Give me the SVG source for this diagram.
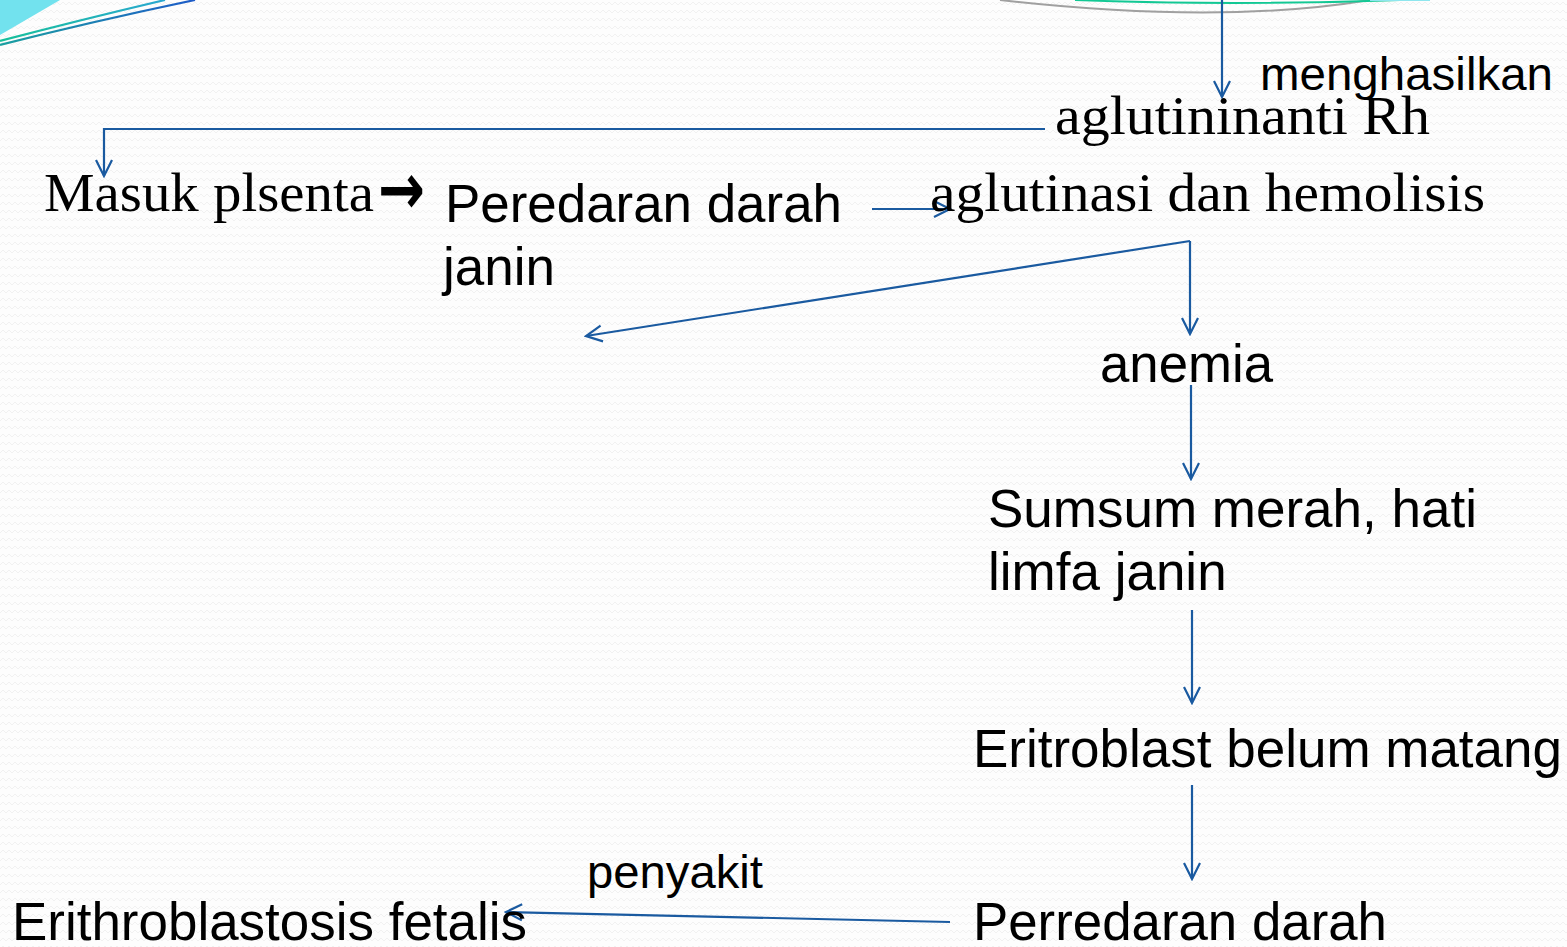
<svg xmlns="http://www.w3.org/2000/svg" width="1567" height="947" viewBox="0 0 1567 947">
<defs>
<pattern id="bg" width="12" height="8" patternUnits="userSpaceOnUse">
<rect width="12" height="8" fill="#fdfdfd"/>
<path d="M0 5 L3 2 L6 5 L9 2 L12 5" fill="none" stroke="#f1f1f1" stroke-width="1"/>
</pattern>
<marker id="ah" viewBox="0 0 20 20" refX="18" refY="10" markerWidth="20" markerHeight="20" markerUnits="userSpaceOnUse" orient="auto">
<path d="M2 2 L18 10 L2 18" fill="none" stroke="#1a5aa0" stroke-width="2.2"/>
</marker>
<linearGradient id="gl1" x1="0" y1="0" x2="1" y2="0">
<stop offset="0" stop-color="#16c09a"/><stop offset="1" stop-color="#2aa8d0"/>
</linearGradient>
<linearGradient id="gl2" x1="0" y1="0" x2="1" y2="0">
<stop offset="0" stop-color="#1aa0a0"/><stop offset="1" stop-color="#1e5cc8"/>
</linearGradient>
</defs>
<style>
.sans{font-family:"Liberation Sans",Arial,sans-serif;fill:#000}
.serif{font-family:"Liberation Serif","Times New Roman",serif;fill:#000}
.c{fill:none;stroke:#1a5aa0;stroke-width:2.2}
</style>
<rect width="1567" height="947" fill="url(#bg)"/>
<g id="decor">
<path d="M0 0 L60 0 L0 35 Z" fill="#72e2ee"/>
<path d="M0 41 Q80 20 165 0" fill="none" stroke="url(#gl1)" stroke-width="2.2"/>
<path d="M0 45 Q90 22 195 0" fill="none" stroke="url(#gl2)" stroke-width="2.2"/>
<path d="M1000 0 Q1220 25 1370 0" fill="none" stroke="#a0a0a0" stroke-width="2"/>
<path d="M1075 0 Q1230 6 1400 0" fill="none" stroke="#12c894" stroke-width="2"/>
<path d="M1370 0 L1430 0" fill="none" stroke="#8ee6ee" stroke-width="2"/>
</g>
<g id="connectors">
<line class="c" x1="1222" y1="0" x2="1222" y2="97" marker-end="url(#ah)"/>
<polyline class="c" points="1045,129 104,129 104,176" marker-end="url(#ah)"/>
<line class="c" x1="872" y1="209" x2="950" y2="209" marker-end="url(#ah)"/>
<line class="c" x1="1190" y1="241" x2="586" y2="336" marker-end="url(#ah)"/>
<line class="c" x1="1190" y1="241" x2="1190" y2="334" marker-end="url(#ah)"/>
<line class="c" x1="1191" y1="385" x2="1191" y2="479" marker-end="url(#ah)"/>
<line class="c" x1="1192" y1="610" x2="1192" y2="703" marker-end="url(#ah)"/>
<line class="c" x1="1192" y1="785" x2="1192" y2="879" marker-end="url(#ah)"/>
<line class="c" x1="950" y1="922" x2="506" y2="912" marker-end="url(#ah)"/>
</g>
<g id="menghasilkan"><text class="sans" x="1260" y="90" font-size="46" textLength="293" lengthAdjust="spacingAndGlyphs">menghasilkan</text></g>
<g id="aglutininanti"><text class="serif" x="1055" y="134" font-size="54" textLength="375" lengthAdjust="spacingAndGlyphs">aglutininanti Rh</text></g>
<g id="masuk"><text class="serif" x="44" y="211" font-size="54" textLength="330" lengthAdjust="spacingAndGlyphs">Masuk plsenta</text><text x="378" y="214" font-size="72" font-weight="bold" font-family="'DejaVu Sans',sans-serif" textLength="47" lengthAdjust="spacingAndGlyphs">→</text></g>
<g id="peredaran"><text class="sans" x="445" y="222" font-size="53" textLength="397" lengthAdjust="spacingAndGlyphs">Peredaran darah</text><text class="sans" x="443" y="285" font-size="53">janin</text></g>
<g id="aglutinasi"><text class="serif" x="930" y="211" font-size="54" textLength="555" lengthAdjust="spacingAndGlyphs">aglutinasi dan hemolisis</text></g>
<g id="anemia"><text class="sans" x="1100" y="382" font-size="53" textLength="173" lengthAdjust="spacingAndGlyphs">anemia</text></g>
<g id="sumsum"><text class="sans" x="988" y="527" font-size="53" textLength="489" lengthAdjust="spacingAndGlyphs">Sumsum merah, hati</text><text class="sans" x="988" y="590" font-size="53">limfa janin</text></g>
<g id="eritroblast"><text class="sans" x="973" y="767" font-size="53" textLength="589" lengthAdjust="spacingAndGlyphs">Eritroblast belum matang</text></g>
<g id="perredaran"><text class="sans" x="973" y="940" font-size="53" textLength="414" lengthAdjust="spacingAndGlyphs">Perredaran darah</text></g>
<g id="penyakit"><text class="sans" x="587" y="888" font-size="46" textLength="176" lengthAdjust="spacingAndGlyphs">penyakit</text></g>
<g id="erithroblastosis"><text class="sans" x="12" y="940" font-size="53" textLength="515" lengthAdjust="spacingAndGlyphs">Erithroblastosis fetalis</text></g>
</svg>
